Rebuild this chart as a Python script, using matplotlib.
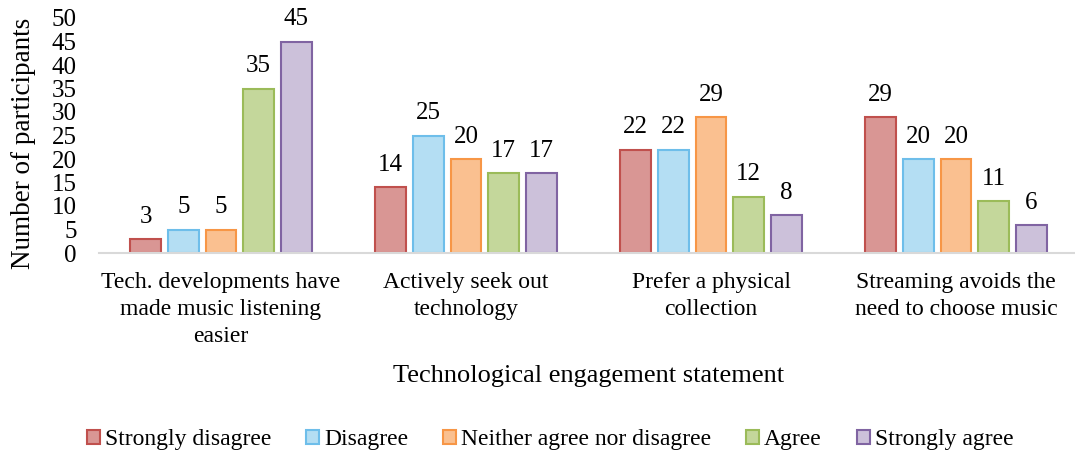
import numpy as np
import matplotlib.pyplot as plt
from matplotlib.patches import Patch

plt.rcParams['font.family'] = ['Liberation Serif', 'DejaVu Serif']

# Kategorien und Werte
statements = ['Tech. developments have\nmade music listening\neasier',
              'Actively seek out\ntechnology',
              'Prefer a physical\ncollection',
              'Streaming avoids the\nneed to choose music']
responses = ['Strongly disagree', 'Disagree', 'Neither agree nor disagree',
             'Agree', 'Strongly agree']
strongly_disagree = [3, 14, 22, 29]
disagree = [5, 25, 22, 20]
neither = [5, 20, 29, 20]
agree = [35, 17, 12, 11]
strongly_agree = [45, 17, 8, 6]
series = [strongly_disagree, disagree, neither, agree, strongly_agree]

fills = ['#D99694', '#B4DEF3', '#FAC090', '#C4D79B', '#CCC1DA']
edges = ['#C0504D', '#6EBEEA', '#F79646', '#9BBB59', '#8064A2']

fig = plt.figure(figsize=(10.75, 4.57), dpi=100)
ax = fig.add_axes([98.5 / 1075, 204 / 457, 980 / 1075, 235 / 457])

x = np.arange(len(statements))
step = 0.154
width = 0.126
for i, vals in enumerate(series):
    pos = x + (i - 2) * step
    bars = ax.bar(pos, vals, width, color=fills[i], edgecolor=edges[i],
                  linewidth=1.5, label=responses[i])
    for b, v in zip(bars, vals):
        ax.annotate(str(v), (b.get_x() + b.get_width() / 2, v),
                    xytext=(0, 8), textcoords='offset points',
                    ha='center', va='bottom', fontsize=18)

ax.set_xlim(-0.5, 3.5)
ax.set_ylim(0, 50)
ax.set_yticks(np.arange(0, 51, 5))
ax.set_xticks(x)
ax.set_xticklabels(statements, fontsize=17, linespacing=1.38)
ax.tick_params(axis='y', length=0, labelsize=18, pad=15.5)
ax.tick_params(axis='x', length=0, pad=13.5)
for s in ['top', 'right', 'left']:
    ax.spines[s].set_visible(False)
ax.spines['bottom'].set_color('#D9D9D9')
ax.spines['bottom'].set_linewidth(1.5)

ax.set_ylabel('Number of participants', fontsize=19.5)
ax.yaxis.set_label_coords(-63 / 980, 0.466)
ax.set_xlabel('Technological engagement statement', fontsize=19, labelpad=13)

handles = [Patch(facecolor=fills[i], edgecolor=edges[i], linewidth=1.5)
           for i in range(5)]
fig.legend(handles, responses, loc='center', bbox_to_anchor=(550 / 1075, 17 / 457),
           ncol=5, frameon=False, fontsize=17, handlelength=0.55,
           handleheight=0.55, handletextpad=0.21, columnspacing=1.48)

fig.savefig('out.png', dpi=100)
